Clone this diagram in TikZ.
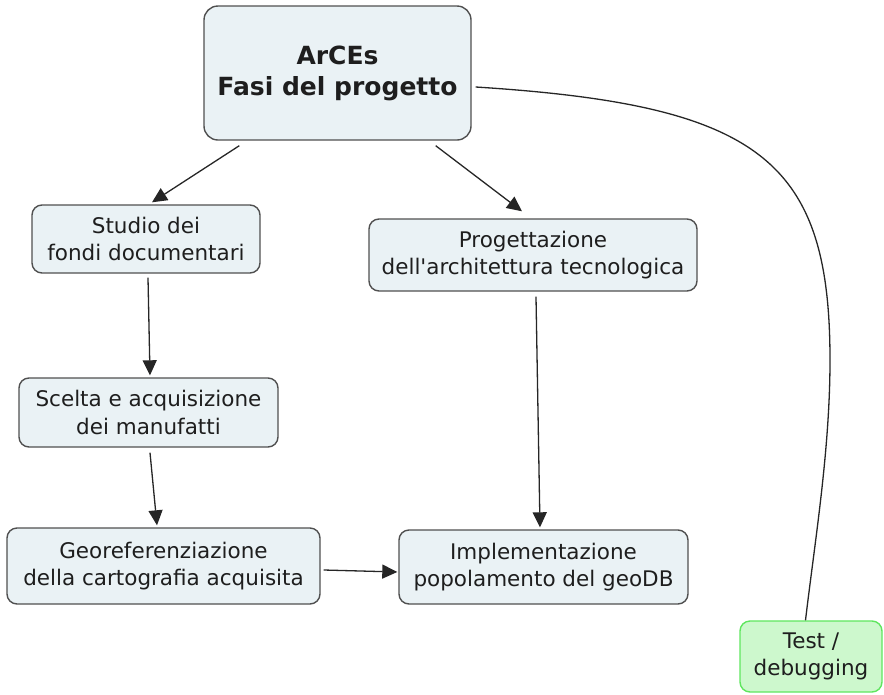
\documentclass[tikz,border=0pt]{standalone}
\usepackage{fontspec}
\setmainfont{DejaVu Sans}
\usetikzlibrary{arrows.meta}
\definecolor{boxfill}{RGB}{234,242,245}
\definecolor{boxline}{RGB}{80,80,80}
\definecolor{testfill}{RGB}{205,248,205}
\definecolor{testline}{RGB}{95,230,95}
\definecolor{txt}{RGB}{30,30,30}
\tikzset{
  conc/.style={draw=boxline, line width=1.4pt, fill=boxfill, rounded corners=10pt,
    inner sep=0pt, align=center, text=txt,
    font=\fontsize{21.5}{27.5}\selectfont},
  topbox/.style={conc, font=\bfseries\fontsize{25}{31}\selectfont, rounded corners=14pt},
  testbox/.style={conc, draw=testline, fill=testfill},
  link/.style={draw=black!85, line width=1.3pt, -{Triangle[length=15pt,width=14pt]}},
  plainlink/.style={draw=black!85, line width=1.3pt}
}
\begin{document}
\begin{tikzpicture}[x=1pt,y=-1pt]
\useasboundingbox (0,0) rectangle (884,694);
\node[topbox, minimum width=267pt, minimum height=134pt] (top) at (337.5,73) {ArCEs\\Fasi del progetto};
\node[conc, minimum width=228pt, minimum height=68pt] (studio) at (146,239) {Studio dei\\fondi documentari};
\node[conc, minimum width=328pt, minimum height=72pt] (prog) at (533,255) {Progettazione\\dell\textquotesingle architettura tecnologica};
\node[conc, minimum width=259pt, minimum height=69pt] (scelta) at (148.5,412.5) {Scelta e acquisizione\\dei manufatti};
\node[conc, minimum width=313pt, minimum height=76pt] (geo) at (163.5,566) {Georeferenziazione\\della cartografia acquisita};
\node[conc, minimum width=289pt, minimum height=74pt] (impl) at (543.5,567) {Implementazione\\popolamento del geoDB};
\node[testbox, minimum width=142pt, minimum height=71pt] (test) at (811,656.5) {Test /\\debugging};

\draw[link] ([xshift=36pt,yshift=-5pt]top.south west) -- ([xshift=6pt,yshift=2pt]studio.north);
\draw[link] ([xshift=-36pt,yshift=-5pt]top.south east) -- ([xshift=-11pt,yshift=7pt]prog.north);
\draw[link] ([xshift=2pt,yshift=-4pt]studio.south) -- ([xshift=1.5pt,yshift=2pt]scelta.north);
\draw[link] ([xshift=1.5pt,yshift=-5pt]scelta.south) -- ([xshift=-6.5pt,yshift=2pt]geo.north);
\draw[link] ([xshift=3pt,yshift=-5pt]prog.south) -- ([xshift=-3.5pt,yshift=2pt]impl.north);
\draw[link] ([xshift=3pt,yshift=-4pt]geo.east) -- ([xshift=-1pt,yshift=-5pt]impl.west);
\coordinate (bend) at (830,360);
\draw[plainlink] ([xshift=4pt,yshift=-14pt]top.east) .. controls (760,105) and (830,160) .. (bend)
  .. controls (830,450) and (815,540) .. ([xshift=-5.5pt]test.north);
\end{tikzpicture}
\end{document}
